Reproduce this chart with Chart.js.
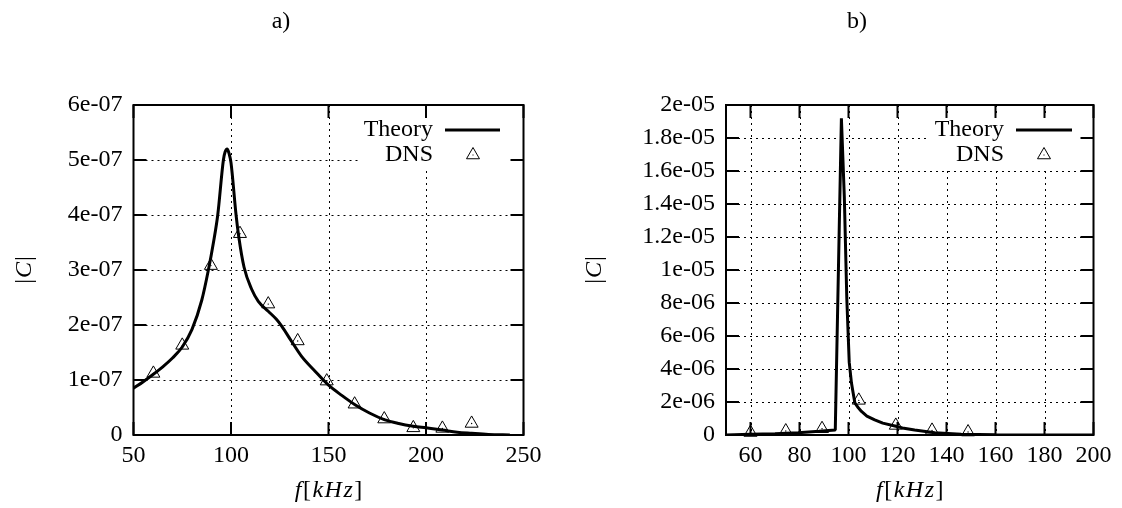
<!DOCTYPE html>
<html>
<head>
<meta charset="utf-8">
<script src="https://cdn.jsdelivr.net/npm/chart.js@4.4.0/dist/chart.umd.min.js"></script>
<style>
  body { margin: 0; background: #fff; }
  #wrap { position: relative; width: 1122px; height: 508px; }
  canvas { position: absolute; top: 0; }
</style>
</head>
<body>
<div id="wrap">
  <canvas id="chartA" width="561" height="508" style="left:0"></canvas>
  <canvas id="chartB" width="561" height="508" style="left:561px"></canvas>
</div>
<script>
// ---- panel a) ----
const theoryFreqA = [50, 55, 60, 65, 70, 75, 80, 85, 88.4, 91, 93.2, 96.1, 97, 98, 99, 100, 102.6, 104, 106.7,
  110.6, 114, 119.1, 123.4, 126, 131.1, 136.2, 143.1, 149.9, 156.8, 163.6, 171, 178.6, 186, 193.5, 200,
  208.4, 216, 223.4, 232, 243];
const theoryA = [0.85e-7, 0.97e-7, 1.1e-7, 1.24e-7, 1.4e-7, 1.6e-7, 1.92e-7, 2.45e-7, 3.0e-7, 3.5e-7,
  4.0e-7, 5.0e-7, 5.15e-7, 5.2e-7, 5.12e-7, 4.95e-7, 4.0e-7, 3.6e-7, 3.05e-7, 2.65e-7, 2.43e-7, 2.25e-7,
  2.1e-7, 1.98e-7, 1.70e-7, 1.43e-7, 1.16e-7, 0.91e-7, 0.72e-7, 0.55e-7, 0.40e-7, 0.28e-7, 0.21e-7,
  0.16e-7, 0.13e-7, 0.09e-7, 0.05e-7, 0.03e-7, 0.01e-7, 0];
const dnsFreqA = [60.2, 75, 89.7, 104.6, 119.1, 134.2, 149.1, 163.4, 178.6, 193.5, 208.4, 223.4];
const dnsA = [1.12e-7, 1.63e-7, 3.08e-7, 3.66e-7, 2.38e-7, 1.71e-7, 0.98e-7, 0.56e-7, 0.29e-7, 0.13e-7, 0.12e-7, 0.21e-7];
const xTicksA = [50, 100, 150, 200, 250];
const xLabelsA = ['50', '100', '150', '200', '250'];
const yTicksA = [0, 1e-7, 2e-7, 3e-7, 4e-7, 5e-7, 6e-7];
const yLabelsA = ['0', '1e-07', '2e-07', '3e-07', '4e-07', '5e-07', '6e-07'];

// ---- panel b) ----
const theoryFreqB = [50, 60, 70, 79.4, 88, 94.6, 97.1, 98.3, 99.3, 100.3, 101.2, 101.9, 102.6, 104, 105.3,
  107.5, 110.7, 114, 118.9, 122, 127, 135.2, 146, 160, 180, 200];
const theoryB = [0, 0.04e-6, 0.08e-6, 0.14e-6, 0.22e-6, 0.3e-6, 19.2e-6, 14.4e-6, 8.3e-6, 4.4e-6, 3.16e-6,
  2.55e-6, 1.94e-6, 1.65e-6, 1.43e-6, 1.15e-6, 0.92e-6, 0.72e-6, 0.55e-6, 0.43e-6, 0.3e-6, 0.14e-6,
  0.05e-6, 0.02e-6, 0, 0];
const dnsFreqB = [60, 74.4, 89.2, 104.2, 119.3, 134.1, 148.8];
const dnsB = [0.15e-6, 0.24e-6, 0.38e-6, 2.1e-6, 0.58e-6, 0.28e-6, 0.18e-6];
const xTicksB = [60, 80, 100, 120, 140, 160, 180, 200];
const xLabelsB = ['60', '80', '100', '120', '140', '160', '180', '200'];
const yTicksB = [0, 2e-6, 4e-6, 6e-6, 8e-6, 1e-5, 1.2e-5, 1.4e-5, 1.6e-5, 1.8e-5, 2e-5];
const yLabelsB = ['0', '2e-06', '4e-06', '6e-06', '8e-06', '1e-05', '1.2e-05', '1.4e-05', '1.6e-05', '1.8e-05', '2e-05'];

const FONT = '"Liberation Serif", "Times New Roman", serif';
const SIZE = 24;

function toPoints(xs, ys) {
  return xs.map((x, i) => ({ x: x, y: ys[i] }));
}

// draw text made of upright / italic pieces, centred on (cx, cy)
function drawRich(ctx, parts, cx, cy, gap) {
  let w = 0;
  parts.forEach(p => {
    ctx.font = (p[1] ? 'italic ' : '') + SIZE + 'px ' + FONT;
    for (const ch of p[0]) w += ctx.measureText(ch).width + gap;
  });
  w -= gap;
  let x = cx - w / 2;
  ctx.textAlign = 'left';
  ctx.textBaseline = 'middle';
  parts.forEach(p => {
    ctx.font = (p[1] ? 'italic ' : '') + SIZE + 'px ' + FONT;
    for (const ch of p[0]) {
      ctx.fillText(ch, x, cy);
      x += ctx.measureText(ch).width + gap;
    }
  });
}

function triangle(ctx, x, y, r) {
  ctx.beginPath();
  ctx.moveTo(x, y - r);
  ctx.lineTo(x + r * 0.866, y + r * 0.5);
  ctx.lineTo(x - r * 0.866, y + r * 0.5);
  ctx.closePath();
  ctx.stroke();
}

// gnuplot look: dotted grid, inward ticks on all sides, key box, labels
function gnuplotPlugin(cfg) {
  return {
    id: 'gp' + cfg.name,
    beforeDatasetsDraw(chart) {
      const { ctx, chartArea: a } = chart;
      const x = chart.scales.x, y = chart.scales.y;
      ctx.save();
      ctx.strokeStyle = '#000';
      ctx.lineWidth = 1;
      ctx.setLineDash([2, 4]);
      cfg.xTicks.forEach(v => {
        const px = Math.round(x.getPixelForValue(v)) + 0.5;
        if (px < a.left + 3 || px > a.right - 3) return;
        ctx.beginPath(); ctx.moveTo(px, a.top); ctx.lineTo(px, a.bottom); ctx.stroke();
      });
      cfg.yTicks.forEach(v => {
        const py = Math.round(y.getPixelForValue(v)) + 0.5;
        if (py < a.top + 3 || py > a.bottom - 3) return;
        ctx.beginPath(); ctx.moveTo(a.left, py); ctx.lineTo(a.right, py); ctx.stroke();
      });
      ctx.restore();
    },
    afterDatasetsDraw(chart) {
      const { ctx, chartArea: a } = chart;
      const x = chart.scales.x, y = chart.scales.y;
      const k = cfg.key;
      ctx.save();
      // key
      ctx.fillStyle = '#fff';
      ctx.fillRect(k.box[0], k.box[1], k.box[2] - k.box[0], k.box[3] - k.box[1]);
      ctx.fillStyle = '#000';
      ctx.font = SIZE + 'px ' + FONT;
      ctx.textAlign = 'right';
      ctx.textBaseline = 'middle';
      ctx.fillText('Theory', k.textRight, k.row1);
      ctx.fillText('DNS', k.textRight, k.row2);
      ctx.strokeStyle = '#000';
      ctx.lineWidth = 3;
      ctx.beginPath(); ctx.moveTo(k.line[0], k.row1); ctx.lineTo(k.line[1], k.row1); ctx.stroke();
      ctx.lineWidth = 1;
      triangle(ctx, k.mark, k.row2, 7.5);
      ctx.fillRect(k.mark - 0.5, k.row2 - 0.5, 1, 1);
      // frame and ticks
      ctx.lineWidth = 2;
      ctx.strokeRect(a.left, a.top, a.right - a.left, a.bottom - a.top);
      ctx.beginPath();
      cfg.xTicks.forEach(v => {
        const px = x.getPixelForValue(v);
        ctx.moveTo(px, a.bottom); ctx.lineTo(px, a.bottom - 13);
        ctx.moveTo(px, a.top); ctx.lineTo(px, a.top + 13);
      });
      cfg.yTicks.forEach(v => {
        const py = y.getPixelForValue(v);
        ctx.moveTo(a.left, py); ctx.lineTo(a.left + 13, py);
        ctx.moveTo(a.right, py); ctx.lineTo(a.right - 13, py);
      });
      ctx.stroke();
      // labels
      ctx.fillStyle = '#000';
      ctx.font = SIZE + 'px ' + FONT;
      ctx.textAlign = 'center';
      ctx.textBaseline = 'middle';
      ctx.fillText(cfg.title, cfg.titlePos[0], cfg.titlePos[1]);
      drawRich(ctx, [['f', true], ['[', false], ['kHz', true], [']', false]], (a.left + a.right) / 2, 491, 1.5);
      ctx.translate(cfg.yTitleX, (a.top + a.bottom) / 2);
      ctx.rotate(-Math.PI / 2);
      drawRich(ctx, [['|', false], ['C', true], ['|', false]], 0, 0, 1);
      ctx.restore();
    }
  };
}

function makeChart(id, p) {
  return new Chart(document.getElementById(id), {
    type: 'scatter',
    data: {
      datasets: [
        {
          label: 'Theory',
          data: toPoints(p.theoryX, p.theoryY),
          showLine: true,
          borderColor: '#000',
          borderWidth: 3,
          borderJoinStyle: p.join,
          pointRadius: 0,
          tension: p.smooth ? 0.4 : 0,
          cubicInterpolationMode: p.smooth ? 'monotone' : 'default'
        },
        {
          label: 'DNS',
          data: toPoints(p.dnsX, p.dnsY),
          showLine: false,
          pointStyle: 'triangle',
          pointRadius: 7.5,
          borderColor: '#000',
          borderWidth: 1,
          backgroundColor: 'rgba(0,0,0,0)',
          clip: false
        },
        {
          label: 'dot',
          data: toPoints(p.dnsX, p.dnsY),
          showLine: false,
          pointStyle: 'circle',
          pointRadius: 0.7,
          borderWidth: 0,
          backgroundColor: '#000',
          clip: false
        }
      ]
    },
    options: {
      responsive: false,
      animation: false,
      devicePixelRatio: 1,
      layout: { padding: { left: 0, right: p.padRight, top: 105, bottom: 0 } },
      plugins: { legend: { display: false }, tooltip: { enabled: false } },
      scales: {
        x: {
          type: 'linear',
          min: p.xMin, max: p.xMax,
          grid: { display: false, drawTicks: false },
          border: { display: false },
          afterBuildTicks: s => { s.ticks = p.xTicks.map(v => ({ value: v })); },
          afterFit: s => { s.height = 73; },
          ticks: {
            autoSkip: false, maxRotation: 0, padding: 6, color: '#000',
            font: { family: FONT, size: SIZE },
            callback: (v, i) => p.xLabels[i]
          }
        },
        y: {
          type: 'linear',
          min: p.yMin, max: p.yMax,
          grid: { display: false, drawTicks: false },
          border: { display: false },
          afterBuildTicks: s => { s.ticks = p.yTicks.map(v => ({ value: v })); },
          afterFit: s => { s.width = p.yWidth; },
          ticks: {
            autoSkip: false, padding: 11, color: '#000',
            font: { family: FONT, size: SIZE },
            callback: (v, i) => p.yLabels[i]
          }
        }
      }
    },
    plugins: [gnuplotPlugin(p.deco)]
  });
}

makeChart('chartA', {
  theoryX: theoryFreqA, theoryY: theoryA, dnsX: dnsFreqA, dnsY: dnsA,
  xTicks: xTicksA, xLabels: xLabelsA, yTicks: yTicksA, yLabels: yLabelsA,
  xMin: 50, xMax: 250, yMin: 0, yMax: 6e-7,
  yWidth: 133.5, padRight: 37.5, smooth: true, join: 'round',
  deco: {
    name: 'A', xTicks: xTicksA, yTicks: yTicksA, title: 'a)', titlePos: [281, 22], yTitleX: 25,
    key: { box: [358, 117, 515, 168], textRight: 433, row1: 130, row2: 155, line: [445, 500], mark: 473 }
  }
});

makeChart('chartB', {
  theoryX: theoryFreqB, theoryY: theoryB, dnsX: dnsFreqB, dnsY: dnsB,
  xTicks: xTicksB, xLabels: xLabelsB, yTicks: yTicksB, yLabels: yLabelsB,
  xMin: 50, xMax: 200, yMin: 0, yMax: 2e-5,
  yWidth: 165, padRight: 28.5, smooth: false, join: 'bevel',
  deco: {
    name: 'B', xTicks: xTicksB, yTicks: yTicksB, title: 'b)', titlePos: [296, 22], yTitleX: 34,
    key: { box: [366, 117, 524, 167], textRight: 443, row1: 130, row2: 155, line: [455, 511], mark: 483 }
  }
});
</script>
</body>
</html>
